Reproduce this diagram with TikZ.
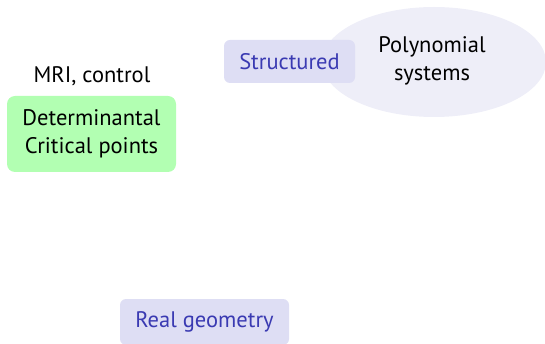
\documentclass[tikz,border=0pt]{standalone}
\usepackage{fontspec}
\setmainfont{PT Sans}
\usetikzlibrary{shapes.geometric}
\definecolor{ellfill}{RGB}{238,238,248}
\definecolor{boxfill}{RGB}{222,222,244}
\definecolor{boxtext}{RGB}{58,58,178}
\definecolor{greenfill}{RGB}{178,255,178}
\tikzset{
  plain/.style={font=\fontsize{22.5}{28}\selectfont, align=center},
  topic/.style={plain, fill=boxfill, text=boxtext, rounded corners=6pt, inner sep=0pt},
}
\begin{document}
\begin{tikzpicture}[x=1pt,y=-1pt]
\useasboundingbox (0,0) rectangle (545,344);
\node[ellipse, fill=ellfill, minimum width=224pt, minimum height=110pt, inner sep=0pt] (ell) at (434,62) {};
\node[plain, text=black] (poly) at (432,61) {Polynomial\\systems};
\node[topic, minimum width=131pt, minimum height=43pt] (struct) at (289.5,61.5) {Structured};
\node[plain] (mri) at (92,76) {MRI, control};
\node[plain, fill=greenfill, rounded corners=8pt, minimum width=169pt, minimum height=76pt, inner sep=0pt] (det) at (91.5,134) {Determinantal\\Critical points};
\node[topic, minimum width=169pt, minimum height=46pt] (real) at (204.5,322) {Real geometry};
\end{tikzpicture}
\end{document}
